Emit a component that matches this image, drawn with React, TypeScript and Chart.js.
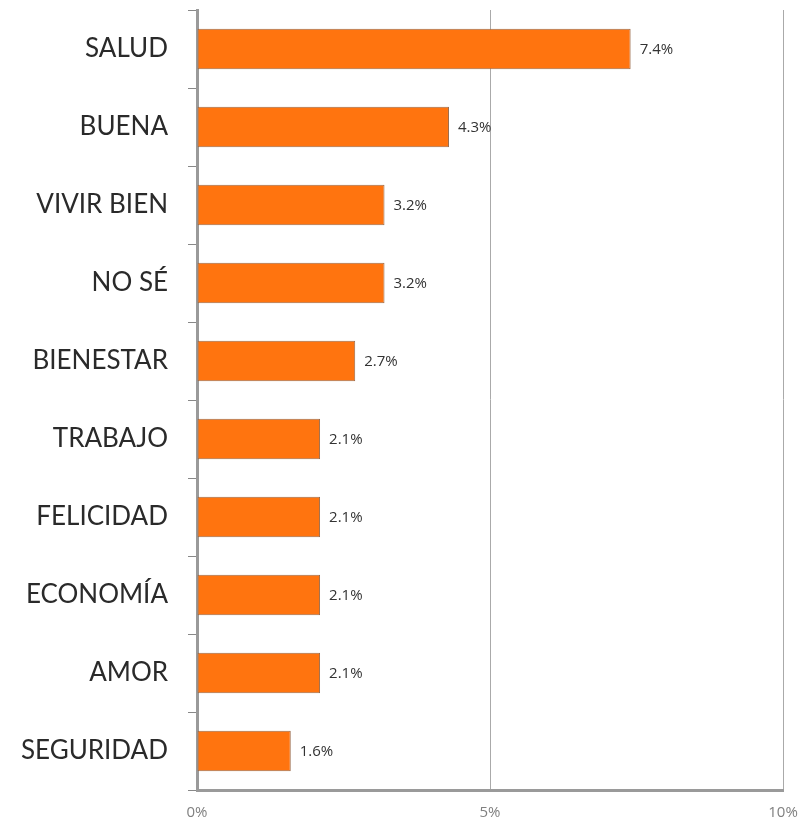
import React, { useEffect, useRef } from "react";
import { Chart, registerables } from "chart.js";

Chart.register(...registerables);

const categories = ["SALUD", "BUENA", "VIVIR BIEN", "NO SÉ", "BIENESTAR", "TRABAJO", "FELICIDAD", "ECONOMÍA", "AMOR", "SEGURIDAD"];
const values = [7.4, 4.3, 3.2, 3.2, 2.7, 2.1, 2.1, 2.1, 2.1, 1.6];
const xTicks = [0, 5, 10];

const valueLabels = {
  id: "valueLabels",
  afterDatasetsDraw(chart: any) {
    const ctx = chart.ctx;
    const meta = chart.getDatasetMeta(0);
    ctx.save();
    ctx.font = '15px "Open Sans"';
    ctx.fillStyle = "#333";
    ctx.textAlign = "left";
    ctx.textBaseline = "middle";
    meta.data.forEach((bar: any, i: number) => {
      ctx.fillText(values[i].toFixed(1) + "%", bar.x + 9, bar.y + 1);
    });
    ctx.restore();
  },
};

export default function App() {
  const ref = useRef<HTMLCanvasElement>(null);
  useEffect(() => {
    document.body.style.margin = "0";
    const chart = new Chart(ref.current as HTMLCanvasElement, {
      type: "bar",
      data: {
        labels: categories,
        datasets: [
          {
            data: values,
            backgroundColor: "#FF740F",
            borderColor: "#9a6a4a",
            borderWidth: 1,
            borderSkipped: false,
            categoryPercentage: 1,
            barPercentage: 0.52,
          },
        ],
      },
      options: {
        indexAxis: "y",
        animation: false,
        responsive: false,
        maintainAspectRatio: false,
        layout: { padding: { top: 10, right: 18, left: 0, bottom: 0 } },
        plugins: { legend: { display: false }, tooltip: { enabled: false } },
        scales: {
          y: {
            afterFit(scale: any) {
              scale.width = 197;
              scale.paddingTop = 0;
              scale.paddingBottom = 0;
            },
            grid: {
              display: true,
              drawOnChartArea: false,
              drawTicks: true,
              tickLength: 9,
              color: "#888",
              lineWidth: 1,
              offset: true,
            },
            border: { display: true, color: "#9a9a9a", width: 3 },
            ticks: {
              font: { family: "Lato", size: 26 },
              color: "#2a2a2a",
              padding: 20,
            },
          },
          x: {
            min: 0,
            max: 10,
            afterFit(scale: any) {
              scale.height = 33;
              scale.paddingLeft = 0;
              scale.paddingRight = 0;
            },
            afterBuildTicks(scale: any) {
              scale.ticks = xTicks.map((v) => ({ value: v }));
            },
            grid: {
              color: "#aaa",
              lineWidth: 1,
              drawTicks: false,
            },
            border: { display: true, color: "#9a9a9a", width: 3 },
            ticks: {
              font: { family: "Open Sans", size: 15 },
              color: "#808080",
              padding: 14,
              callback: (v: any) => v + "%",
            },
          },
        },
      },
      plugins: [valueLabels],
    });
    return () => chart.destroy();
  }, []);
  return <canvas ref={ref} width={801} height={823} style={{ display: "block" }} />;
}
